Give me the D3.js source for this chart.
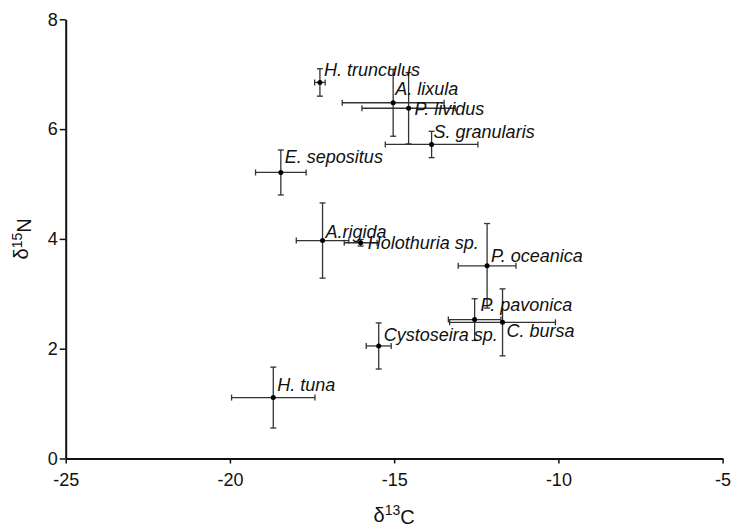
<!DOCTYPE html>
<html>
<head>
<meta charset="utf-8">
<script src="https://cdn.jsdelivr.net/npm/d3@7"></script>
<style>
  body { margin: 0; background: #fff; }
  text { font-family: "Liberation Sans", Arial, sans-serif; }
</style>
</head>
<body>
<script>
// species means and SDs
var species = ["H. trunculus", "A. lixula", "P. lividus", "S. granularis", "E. sepositus",
               "A.rigida", "Holothuria sp.", "P. oceanica", "P. pavonica", "C. bursa",
               "Cystoseira sp.", "H. tuna"];
var d13C    = [-17.26, -15.03, -14.56, -13.86, -18.45, -17.18, -16.02, -12.17, -12.55, -11.70, -15.47, -18.68];
var d13C_sd = [0.16, 1.55, 1.42, 1.41, 0.77, 0.80, 0.50, 0.88, 0.80, 1.61, 0.38, 1.27];
var d15N    = [6.85, 6.48, 6.38, 5.72, 5.21, 3.97, 3.93, 3.51, 2.53, 2.48, 2.05, 1.11];
var d15N_sd = [0.25, 0.61, 0.65, 0.24, 0.41, 0.685, 0.06, 0.77, 0.38, 0.61, 0.42, 0.555];

var xTicks = [-25, -20, -15, -10, -5];
var yTicks = [0, 2, 4, 6, 8];

// label nudges (px) relative to each point
var labelDx = [4, 2, 6, 2, 4, 3, 7, 4, 6, 4, 5, 4];
var labelDy = [-6, -8, 7, -6, -9, -3, 6, -4, -9, 15, -5, -7];

var width = 736, height = 524;

var svg = d3.select("body").append("svg")
    .attr("width", width)
    .attr("height", height);

var x = d3.scaleLinear().domain([-25, -5]).range([65.7, 722.6]);
var y = d3.scaleLinear().domain([0, 8]).range([458.5, 19.3]);

var data = species.map(function(s, i) {
    return {name: s, x: d13C[i], xe: d13C_sd[i], y: d15N[i], ye: d15N_sd[i],
            dx: labelDx[i], dy: labelDy[i]};
});

// axes
var xAxis = svg.append("g")
    .attr("transform", "translate(0," + y(0) + ")")
    .call(d3.axisBottom(x).tickValues(xTicks).tickSize(5).tickPadding(10).tickSizeOuter(0)
          .tickFormat(d3.format("d")));

var yAxis = svg.append("g")
    .attr("transform", "translate(" + x(-25) + ",0)")
    .call(d3.axisLeft(y).tickValues(yTicks).tickSize(6).tickPadding(2).tickSizeOuter(0)
          .tickFormat(d3.format("d")));

[xAxis, yAxis].forEach(function(g) {
    g.select(".domain").attr("stroke", "#111").attr("stroke-width", 2);
    g.selectAll(".tick line").attr("stroke", "#111").attr("stroke-width", 1.5);
    g.selectAll(".tick text")
        .attr("fill", "#111")
        .style("font-size", "18px")
        .style("font-family", "'Liberation Sans', Arial, sans-serif")
        .text(function(d) { return d < 0 ? "-" + Math.abs(d) : d; });
});

// error bars
var cap = 3;
var bars = svg.append("g")
    .attr("stroke", "#333")
    .attr("stroke-width", 1.3)
    .attr("fill", "none");

var eb = bars.selectAll("g").data(data).enter().append("g");

eb.append("line")
    .attr("x1", function(d) { return x(d.x - d.xe); })
    .attr("x2", function(d) { return x(d.x + d.xe); })
    .attr("y1", function(d) { return y(d.y); })
    .attr("y2", function(d) { return y(d.y); });
eb.append("line")
    .attr("x1", function(d) { return x(d.x); })
    .attr("x2", function(d) { return x(d.x); })
    .attr("y1", function(d) { return y(d.y - d.ye); })
    .attr("y2", function(d) { return y(d.y + d.ye); });

// caps
[-1, 1].forEach(function(s) {
    eb.append("line")
        .attr("x1", function(d) { return x(d.x + s * d.xe); })
        .attr("x2", function(d) { return x(d.x + s * d.xe); })
        .attr("y1", function(d) { return y(d.y) - cap; })
        .attr("y2", function(d) { return y(d.y) + cap; });
    eb.append("line")
        .attr("x1", function(d) { return x(d.x) - cap; })
        .attr("x2", function(d) { return x(d.x) + cap; })
        .attr("y1", function(d) { return y(d.y + s * d.ye); })
        .attr("y2", function(d) { return y(d.y + s * d.ye); });
});

// points
svg.append("g").selectAll("circle").data(data).enter().append("circle")
    .attr("cx", function(d) { return x(d.x); })
    .attr("cy", function(d) { return y(d.y); })
    .attr("r", 2.5)
    .attr("fill", "#000");

// species labels
svg.append("g").selectAll("text").data(data).enter().append("text")
    .attr("x", function(d) { return x(d.x) + d.dx; })
    .attr("y", function(d) { return y(d.y) + d.dy; })
    .style("font-size", "18px")
    .style("font-style", "italic")
    .attr("fill", "#111")
    .text(function(d) { return d.name; });

// axis titles
function isoTitle(t, sup, el) {
    t.append("tspan").text("\u03b4");
    t.append("tspan").attr("dy", "-0.45em").style("font-size", "0.7em").text(sup);
    t.append("tspan").attr("dy", "0.45em").text(el);
}

var xt = svg.append("text")
    .attr("x", (x(-25) + x(-5)) / 2)
    .attr("y", 521.5)
    .attr("text-anchor", "middle")
    .style("font-size", "20px")
    .attr("fill", "#111");
isoTitle(xt, "13", "C");

var yt = svg.append("text")
    .attr("transform", "translate(28," + (y(0) + y(8)) / 2 + ") rotate(-90)")
    .attr("text-anchor", "middle")
    .style("font-size", "20px")
    .attr("fill", "#111");
isoTitle(yt, "15", "N");
</script>
</body>
</html>
